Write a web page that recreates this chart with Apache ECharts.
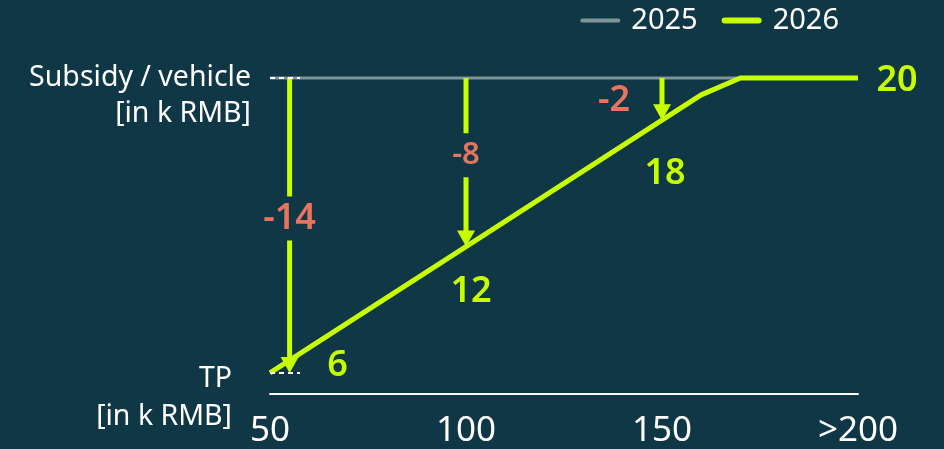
<!DOCTYPE html>
<html>
<head>
<meta charset="utf-8">
<script src="https://cdn.jsdelivr.net/npm/echarts@6/dist/echarts.min.js"></script>
<style>
  html, body { margin: 0; padding: 0; background: #0f3746; }
  #chart { width: 944px; height: 449px; }
</style>
</head>
<body>
<div id="chart"></div>
<script>
// data
var xTicks = [50, 100, 150, 200];
var line2025 = [[50, 20], [200, 20]];
var line2026 = [[50, 6], [100, 12], [150, 18], [160, 19.2], [170, 20], [200, 20]];
var baseSubsidy = 20;
var arrowX = [55, 100, 150];
var arrowDelta = [-14, -8, -2];
var valueX = [55, 100, 150, 200];
var valueY = [6, 12, 18, 20];
var refLevels = [6, 20];

// style bits
var LIME = '#c8ff00', SALMON = '#e8735f', GREY = '#7f9399', BG = '#0f3746';
var FONT = '"Noto Sans", sans-serif';
var arrowLabelMode = ['gap', 'gap', 'left'];
var arrowLabelSize = [36, 31, 36];
var valueOffsets = [[48, -7], [5, 45], [3, 54], [39, 3]];

var chart = echarts.init(document.getElementById('chart'));

var option = {
    backgroundColor: BG,
    animation: false,
    textStyle: { fontFamily: FONT },
    legend: {
        data: [
            { name: '2025', icon: 'path://M2 0H38A2 2 0 0 1 38 4H2A2 2 0 0 1 2 0Z' },
            { name: '2026', icon: 'path://M3 0H37A3 3 0 0 1 37 6H3A3 3 0 0 1 3 0Z' }
        ],
        right: 100,
        top: 1,
        itemWidth: 40,
        itemHeight: 14,
        itemGap: 24,
        textStyle: { color: '#fff', fontSize: 29, fontFamily: FONT, padding: [0, 0, 0, 6] }
    },
    grid: { left: 270, right: 86, top: 78, bottom: 54 },
    xAxis: {
        type: 'value',
        min: 50,
        max: 200,
        interval: 50,
        axisLine: { show: true, lineStyle: { color: '#fff', width: 2 } },
        axisTick: { show: false },
        splitLine: { show: false },
        axisLabel: {
            color: '#fff',
            fontSize: 35,
            margin: 20,
            fontFamily: FONT,
            formatter: function (v) { return v === 200 ? '>200' : String(v); }
        }
    },
    yAxis: {
        type: 'value',
        min: 5,
        max: 20,
        z: 10,
        axisLine: { show: false },
        splitLine: { show: false },
        axisLabel: { show: false },
        axisTick: {
            show: true,
            inside: true,
            length: 30,
            customValues: refLevels,
            lineStyle: { color: '#fff', width: 2, type: [5, 4] }
        }
    },
    graphic: [
        {
            type: 'text', x: 251, y: 60,
            style: { text: 'Subsidy / vehicle\n[in k RMB]', fill: '#fff', font: '28.5px ' + FONT, align: 'right', lineHeight: 36 }
        },
        {
            type: 'text', x: 232, y: 360,
            style: { text: 'TP\n[in k RMB]', fill: '#fff', font: '28.5px ' + FONT, align: 'right', lineHeight: 38 }
        }
    ],
    series: [
        {
            name: '2025',
            type: 'line',
            data: line2025,
            symbol: 'none',
            clip: false,
            lineStyle: { color: GREY, width: 3 },
            itemStyle: { color: GREY },
            z: 2
        },
        {
            name: 'arrows',
            type: 'custom',
            clip: false,
            z: 3,
            data: arrowX.map(function (x, i) { return [x, arrowDelta[i]]; }),
            renderItem: function (params, api) {
                var i = params.dataIndex;
                var x = api.value(0), d = api.value(1);
                var top = api.coord([x, baseSubsidy]);
                var tip = api.coord([x, baseSubsidy + d]);
                var headLen = 16, headW = 18;
                var shaftEnd = tip[1] - headLen + 2;
                var lw = { stroke: LIME, lineWidth: 5 };
                var kids = [];
                var label = {
                    type: 'text',
                    style: {
                        text: String(d), fill: SALMON,
                        font: '600 ' + arrowLabelSize[i] + 'px ' + FONT,
                        align: 'center', verticalAlign: 'middle'
                    }
                };
                if (arrowLabelMode[i] === 'gap') {
                    var mid = (top[1] + shaftEnd) / 2, g = 22;
                    kids.push({ type: 'line', shape: { x1: top[0], y1: top[1], x2: top[0], y2: mid - g }, style: lw });
                    kids.push({ type: 'line', shape: { x1: top[0], y1: mid + g, x2: top[0], y2: shaftEnd }, style: lw });
                    label.x = top[0]; label.y = mid;
                } else {
                    kids.push({ type: 'line', shape: { x1: top[0], y1: top[1], x2: top[0], y2: shaftEnd }, style: lw });
                    label.x = top[0] - 48; label.y = (top[1] + tip[1]) / 2 + 2;
                }
                kids.push({
                    type: 'polygon',
                    shape: { points: [[tip[0] - headW / 2, tip[1] - headLen], [tip[0] + headW / 2, tip[1] - headLen], [tip[0], tip[1]]] },
                    style: { fill: LIME }
                });
                kids.push(label);
                return { type: 'group', children: kids };
            }
        },
        {
            name: '2026',
            type: 'line',
            data: line2026,
            symbol: 'none',
            clip: false,
            lineStyle: { color: LIME, width: 5 },
            itemStyle: { color: LIME },
            z: 4
        },
        {
            name: 'values',
            type: 'scatter',
            symbolSize: 0,
            z: 5,
            itemStyle: { color: LIME, opacity: 1 },
            data: valueX.map(function (x, i) {
                return {
                    value: [x, valueY[i]],
                    label: { offset: valueOffsets[i] }
                };
            }),
            label: {
                show: true,
                position: 'inside',
                color: LIME,
                fontSize: 36,
                fontWeight: 600,
                fontFamily: FONT,
                formatter: function (p) { return String(p.value[1]); }
            }
        }
    ]
};
chart.setOption(option);
</script>
</body>
</html>
